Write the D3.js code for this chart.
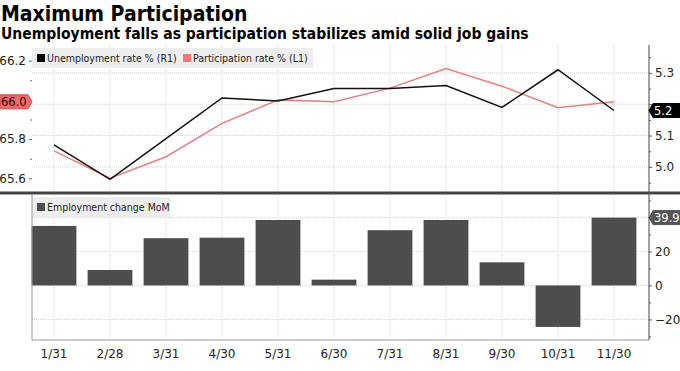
<!DOCTYPE html>
<html><head><meta charset="utf-8">
<script src="https://cdn.jsdelivr.net/npm/d3@7"></script>
<style>
body{margin:0;background:#fff;}
svg{display:block;}
text{font-family:"DejaVu Sans",sans-serif;}
</style></head>
<body>
<svg id="c" width="680" height="371"></svg>
<script>
const categories = ["1/31","2/28","3/31","4/30","5/31","6/30","7/31","8/31","9/30","10/31","11/30"];
const unemployment = [5.07, 4.96, 5.09, 5.22, 5.21, 5.25, 5.25, 5.26, 5.19, 5.31, 5.18];
const participation = [65.74, 65.60, 65.71, 65.88, 66.00, 65.99, 66.06, 66.16, 66.07, 65.96, 65.99];
const employment = [35.0, 9.1, 27.8, 28.1, 38.5, 3.4, 32.5, 38.5, 13.6, -24.4, 39.9];
const leftTicks = [65.6, 65.8, 66.0, 66.2];
const rightTicks = [5.0, 5.1, 5.2, 5.3];
const barTicks = [-20, 0, 20];
const title = "Maximum Participation";
const subtitle = "Unemployment falls as participation stabilizes amid solid job gains";

const svg = d3.select("#c");
const L = 32, R = 649;
const topY0 = 45, topY1 = 192, botY0 = 195, botY1 = 340;
const cond = "'DejaVu Sans Condensed','DejaVu Sans',sans-serif";

const x = d3.scaleBand().domain(categories).range([26, 642]).paddingInner(0.2).paddingOuter(0.1);
const cx = d => x(d) + x.bandwidth()/2;
const yL = d3.scaleLinear().domain([65.53, 66.28]).range([topY1, topY0]);
const yR = d3.scaleLinear().domain([4.92, 5.389]).range([topY1, topY0]);
const yB = d3.scaleLinear().domain([-32.1, 53.2]).range([botY1, botY0]);

const lastP = participation[participation.length - 1];
const lastU = unemployment[unemployment.length - 1];
const lastE = employment[employment.length - 1];
const f1 = d3.format(".1f");

// titles
svg.append("text").attr("x", 1).attr("y", 21).attr("font-size", 21).attr("font-weight", "bold")
  .style("font-family", cond).attr("fill", "#000").text(title);
svg.append("text").attr("x", 1).attr("y", 39).attr("font-size", 15.5).attr("font-weight", "bold")
  .style("font-family", cond).attr("fill", "#000").text(subtitle);

const grid = svg.append("g").attr("stroke", "#d4d4d4").attr("stroke-dasharray", "1,1").attr("stroke-width", 1);
categories.forEach(c => {
  grid.append("line").attr("x1", cx(c)).attr("x2", cx(c)).attr("y1", topY0).attr("y2", topY1);
  grid.append("line").attr("x1", cx(c)).attr("x2", cx(c)).attr("y1", botY0).attr("y2", botY1);
});
rightTicks.forEach(t => grid.append("line").attr("x1", L).attr("x2", R).attr("y1", yR(t)).attr("y2", yR(t)));
[-20, 0, 20, 40].forEach(t => grid.append("line").attr("x1", L).attr("x2", R).attr("y1", yB(t)).attr("y2", yB(t)));

// legends
const lg = svg.append("g");
lg.append("rect").attr("x", 32).attr("y", 48).attr("width", 281).attr("height", 20).attr("fill", "#eeeeee");
lg.append("rect").attr("x", 37).attr("y", 54).attr("width", 8).attr("height", 8).attr("fill", "#000");
lg.append("text").attr("x", 47).attr("y", 62).attr("font-size", 10.5).style("font-family", cond).attr("fill", "#222").text("Unemployment rate % (R1)");
lg.append("rect").attr("x", 183).attr("y", 54).attr("width", 8).attr("height", 8).attr("fill", "#f07878");
lg.append("text").attr("x", 193).attr("y", 62).attr("font-size", 10.5).style("font-family", cond).attr("fill", "#222").text("Participation rate % (L1)");

lg.append("rect").attr("x", 32).attr("y", 197).attr("width", 138).attr("height", 20).attr("fill", "#eeeeee");
lg.append("rect").attr("x", 37).attr("y", 203).attr("width", 8).attr("height", 8).attr("fill", "#4d4d4d");
lg.append("text").attr("x", 47).attr("y", 211).attr("font-size", 10.5).style("font-family", cond).attr("fill", "#222").text("Employment change MoM");

// bars
svg.append("g").selectAll("rect").data(employment).join("rect")
  .attr("x", (d, i) => x(categories[i]))
  .attr("width", x.bandwidth())
  .attr("y", d => yB(Math.max(0, d)))
  .attr("height", d => Math.abs(yB(d) - yB(0)))
  .attr("fill", "#4d4d4d");

// lines
const lineP = d3.line().x((d, i) => cx(categories[i])).y(d => yL(d));
const lineU = d3.line().x((d, i) => cx(categories[i])).y(d => yR(d));
svg.append("path").datum(participation).attr("d", lineP).attr("fill", "none").attr("stroke", "#e97f7f").attr("stroke-width", 1.5);
svg.append("path").datum(unemployment).attr("d", lineU).attr("fill", "none").attr("stroke", "#111").attr("stroke-width", 1.5);

// axes (labels hidden under the value tags are left blank)
const hideNear = (v, last) => Math.abs(v - last) < 0.06;
const axLeft = d3.axisLeft(yL).tickValues(leftTicks).tickSize(3).tickFormat(d => hideNear(d, lastP) ? "" : f1(d));
const gL = svg.append("g").attr("transform", `translate(${L},0)`).call(axLeft);
gL.select(".domain").remove();
svg.append("g").attr("transform", `translate(${L},0)`).call(d3.axisLeft(yL).tickValues([65.7, 65.9, 66.1]).tickSize(2).tickFormat("")).select(".domain").remove();

const axRight = d3.axisRight(yR).tickValues(rightTicks).tickSize(3).tickFormat(d => hideNear(d, lastU) ? "" : f1(d));
const gR = svg.append("g").attr("transform", `translate(${R},0)`).call(axRight);
gR.select(".domain").remove();
svg.append("g").attr("transform", `translate(${R},0)`).call(d3.axisRight(yR).tickValues([4.95, 5.05, 5.15, 5.25, 5.35]).tickSize(2).tickFormat("")).select(".domain").remove();

const axB = d3.axisRight(yB).tickValues(barTicks).tickSize(3).tickFormat(d3.format("d"));
const gB = svg.append("g").attr("transform", `translate(${R},0)`).call(axB);
gB.select(".domain").remove();
svg.append("g").attr("transform", `translate(${R},0)`).call(d3.axisRight(yB).tickValues([-30, -10, 10, 30, 40, 50]).tickSize(2).tickFormat("")).select(".domain").remove();

const axX = d3.axisBottom(x).tickSize(0).tickPadding(9);
const gX = svg.append("g").attr("transform", `translate(0,${botY1})`).call(axX);
gX.select(".domain").remove();

svg.selectAll(".tick text").attr("font-size", 12).attr("fill", "#222").style("font-family", "'DejaVu Sans',sans-serif");
svg.selectAll(".tick line").attr("stroke", "#666");

// axis lines
svg.append("line").attr("x1", L).attr("x2", L).attr("y1", botY0).attr("y2", botY1).attr("stroke", "#999");
svg.append("line").attr("x1", L).attr("x2", R).attr("y1", botY1).attr("y2", botY1).attr("stroke", "#999");
svg.append("line").attr("x1", R).attr("x2", R).attr("y1", topY0).attr("y2", botY1).attr("stroke", "#444");

// separator
svg.append("line").attr("x1", 0).attr("x2", 680).attr("y1", 193).attr("y2", 193).attr("stroke", "#444").attr("stroke-width", 3);

// value tags
function tag(side, yv, txt, fill, stroke, tcol) {
  const h = 14, w = 28, a = 4;
  let pts;
  if (side === "left") {
    pts = [[0, yv - h/2], [w, yv - h/2], [w + a, yv], [w, yv + h/2], [0, yv + h/2]];
  } else {
    pts = [[R + a, yv - h/2], [680, yv - h/2], [680, yv + h/2], [R + a, yv + h/2], [R, yv]];
  }
  svg.append("polygon").attr("points", pts.map(p => p.join(",")).join(" ")).attr("fill", fill).attr("stroke", stroke);
  svg.append("text").attr("x", side === "left" ? 1 : R + 5).attr("y", yv + 4.5).attr("font-size", 11.5)
    .attr("fill", tcol).text(txt);
}
tag("left", yL(lastP), f1(lastP), "#f06a6a", "#c84a4a", "#2a0000");
tag("right", yR(lastU), f1(lastU), "#000", "#000", "#fff");
tag("right", yB(lastE), f1(lastE), "#555", "#555", "#fff");
</script>
</body></html>
